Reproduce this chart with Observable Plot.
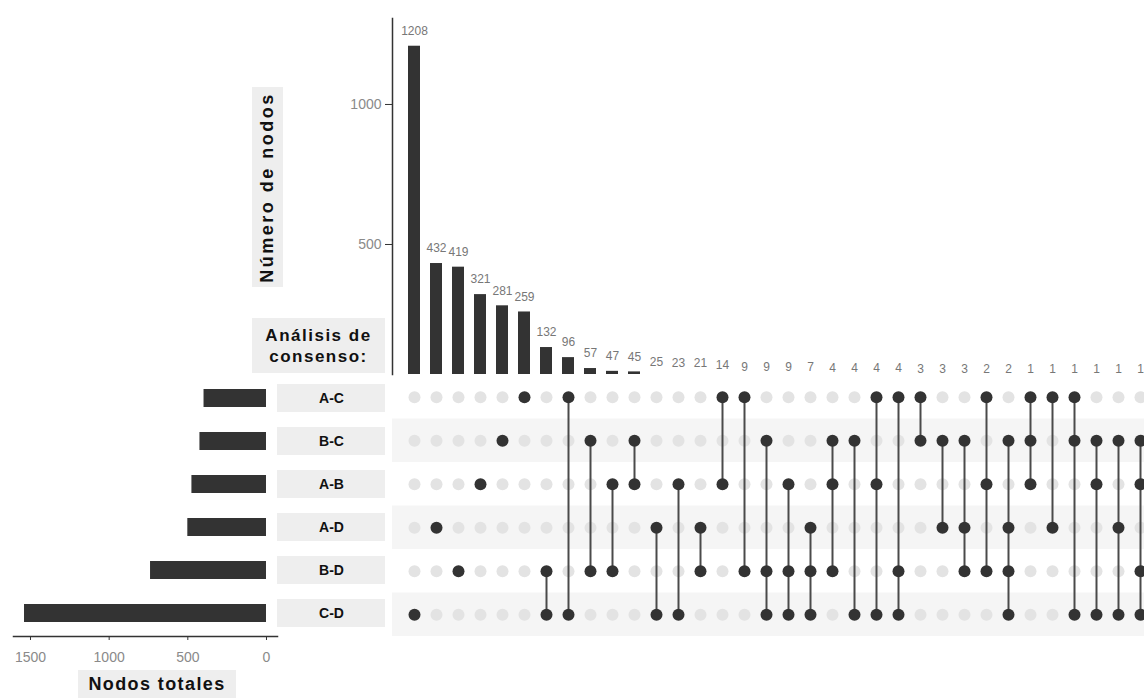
<!DOCTYPE html>
<html><head><meta charset="utf-8">
<script src="https://cdn.jsdelivr.net/npm/d3@7"></script>
<script src="https://cdn.jsdelivr.net/npm/@observablehq/plot@0.6"></script>
<style>
body{margin:0;background:#fff;font-family:"Liberation Sans",Arial,sans-serif;}
#chart{position:relative;width:1144px;height:698px;overflow:hidden;}
#chart svg{position:absolute;top:0;}
.box{position:absolute;background:#eeeeee;font-weight:bold;color:#111;display:flex;align-items:center;justify-content:center;text-align:center;white-space:nowrap;font-family:"Liberation Sans",Arial,sans-serif;}
</style></head><body><div id="chart"></div>
<script>
// ---- data ----
const sets = ["A-C","B-C","A-B","A-D","B-D","C-D"];
const setSizes = [397, 423, 474, 500, 737, 1538];
const counts = [1208,432,419,321,281,259,132,96,57,47,45,25,23,21,14,9,9,9,7,4,4,4,4,3,3,3,2,2,1,1,1,1,1,1];
const members = [
  ["C-D"],["A-D"],["B-D"],["A-B"],["B-C"],["A-C"],
  ["B-D","C-D"],["A-C","C-D"],["B-C","B-D"],["A-B","B-D"],["B-C","A-B"],
  ["A-D","C-D"],["A-B","C-D"],["A-D","B-D"],["A-C","A-B"],["A-C","B-D"],
  ["B-C","B-D","C-D"],["A-B","B-D","C-D"],["A-D","B-D","C-D"],["B-C","A-B","B-D"],
  ["B-C","C-D"],["A-C","A-B","C-D"],["A-C","B-D","C-D"],["A-C","B-C"],
  ["B-C","A-D"],["B-C","A-D","B-D"],["A-C","A-B","B-D"],["B-C","A-D","B-D","C-D"],
  ["A-C","B-C","A-B"],["A-C","A-D"],["A-C","B-C","C-D"],["B-C","A-B","C-D"],
  ["B-C","A-D","C-D"],["B-C","A-B","B-D","C-D"]
];
const shadedSets = ["B-C","A-D","C-D"];
const topTicks = [500, 1000];
const sideTicks = [0, 500, 1000, 1500];

// ---- derived tables ----
const cols = counts.map((v, i) => ({col: i, count: v}));
const cells = cols.flatMap(c => sets.map((s, r) => ({col: c.col, row: r, on: members[c.col].includes(s)})));
const segs = members.map((m, i) => {
  const idx = m.map(s => sets.indexOf(s));
  return {col: i, y1: Math.min(...idx), y2: Math.max(...idx)};
}).filter(d => d.y1 !== d.y2);
const shaded = shadedSets.map(s => sets.indexOf(s));
const setData = sets.map((s, i) => ({set: s, size: setSizes[i]}));

const FONT = '"Liberation Sans", Arial, sans-serif';
const baseStyle = {background: "transparent", fontFamily: FONT, overflow: "visible"};
const xCols = {type: "band", domain: d3.range(counts.length), range: [401.96, 1152.7], paddingInner: 0.45, paddingOuter: 0.225, axis: null};
const chart = document.getElementById("chart");

// ---- top bars ----
const topPlot = Plot.plot({
  width: 1144, height: 400, marginLeft: 392, marginRight: 0, marginTop: 18, marginBottom: 26,
  style: baseStyle,
  x: xCols,
  y: {domain: [0, 1307], range: [384, 18], axis: null},
  marks: [
    Plot.barY(cols, {x: "col", y: "count", fill: "#333", clip: true}),
    Plot.text(cols, {x: "col", y: "count", text: d => String(d.count), dy: -15, fill: "#777", fontSize: 12}),
    Plot.axisY({ticks: topTicks, tickFormat: d => String(d), label: null, tickSize: 7, tickPadding: 4, fontSize: 14, fill: "#8a8a8a", stroke: "#333"}),
    Plot.frame({anchor: "left", stroke: "#333", strokeWidth: 1.5})
  ]
});
topPlot.style.left = "0px";
chart.appendChild(topPlot);

// ---- matrix ----
const matPlot = Plot.plot({
  width: 1144, height: 698, marginLeft: 392, marginRight: 0, marginTop: 375, marginBottom: 62,
  style: baseStyle,
  x: xCols,
  y: {domain: [-0.5, 5.5], range: [375, 636], axis: null},
  marks: [
    Plot.rect(shaded, {y1: d => d - 0.5, y2: d => d + 0.5, fill: "#f5f5f5"}),
    Plot.dot(cells.filter(d => !d.on), {x: "col", y: "row", r: 6, fill: "#e3e3e3"}),
    Plot.ruleX(segs, {x: "col", y1: "y1", y2: "y2", stroke: "#4a4a4a", strokeWidth: 2}),
    Plot.dot(cells.filter(d => d.on), {x: "col", y: "row", r: 6, fill: "#333"})
  ]
});
matPlot.style.left = "0px";
chart.appendChild(matPlot);

// ---- set size bars ----
const sidePlot = Plot.plot({
  width: 300, height: 698, marginLeft: 13, marginRight: 23, marginTop: 375, marginBottom: 62,
  style: baseStyle,
  x: {domain: [1608, -70], axis: null},
  y: {type: "band", domain: sets, range: [375, 636], paddingInner: 0.586, paddingOuter: 0.293, axis: null},
  marks: [
    Plot.barX(setData, {x: "size", y: "set", fill: "#333"}),
    Plot.frame({anchor: "bottom", stroke: "#333", strokeWidth: 1.5}),
    Plot.axisX({ticks: sideTicks, tickFormat: d => String(d), label: null, tickSize: 4, tickPadding: 12, fontSize: 14, fill: "#8a8a8a", stroke: "#333"})
  ]
});
sidePlot.style.left = "0px";
chart.appendChild(sidePlot);

// ---- set labels ----
const labPlot = Plot.plot({
  width: 108, height: 698, marginLeft: 0, marginRight: 0, marginTop: 375, marginBottom: 62,
  style: baseStyle,
  y: {type: "band", domain: sets, range: [375, 636], paddingInner: 0.356, paddingOuter: 0.178, axis: null},
  marks: [
    Plot.cell(sets, {y: d => d, fill: "#eeeeee"}),
    Plot.text(sets, {y: d => d, text: d => d, fontWeight: "bold", fontSize: 14, fill: "#111"})
  ]
});
labPlot.style.left = "277px";
chart.appendChild(labPlot);

// ---- titles ----
function box(html, l, t, w, h, css) {
  const d = document.createElement("div");
  d.className = "box";
  Object.assign(d.style, {left: l + "px", top: t + "px", width: w + "px", height: h + "px"}, css || {});
  d.innerHTML = html;
  chart.appendChild(d);
  return d;
}
box('<span style="display:inline-block;transform:rotate(-90deg);font-size:18px;letter-spacing:2.5px;">Número de nodos</span>', 252, 87, 31, 200);
box('<span style="font-size:17px;letter-spacing:1.5px;line-height:21px;">Análisis de<br>consenso:</span>', 252, 318, 133, 55);
box('<span style="font-size:18px;letter-spacing:1.4px;">Nodos totales</span>', 78, 670, 158, 28);
</script></body></html>
